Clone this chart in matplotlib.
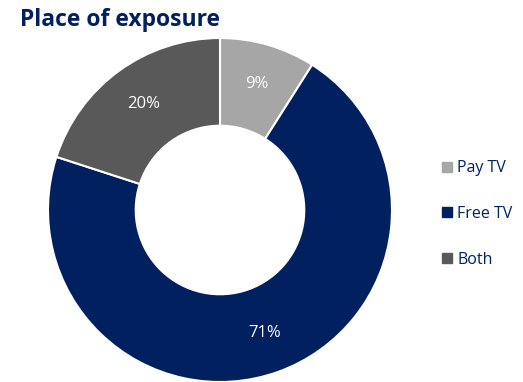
import matplotlib.pyplot as plt
from matplotlib.lines import Line2D

plt.rcParams['font.family'] = ['Open Sans', 'DejaVu Sans']

labels = ['Pay TV', 'Free TV', 'Both']
values = [9, 71, 20]
colors = ['#A6A6A6', '#002060', '#595959']
navy = '#002060'

fig = plt.figure(figsize=(5.23, 3.82), dpi=100)
ax = fig.add_axes([48 / 523, 0, 344 / 523, 344 / 382])
wedges, texts, autotexts = ax.pie(
    values, colors=colors, startangle=90, counterclock=False,
    autopct='%.0f%%', pctdistance=0.76, radius=1,
    wedgeprops=dict(width=0.51, edgecolor='white', linewidth=1.5),
    textprops=dict(color='white', fontsize=12))
ax.set_xlim(-1, 1)
ax.set_ylim(-1, 1)

fig.text(20 / 523, 1 - 20 / 382, 'Place of exposure', fontsize=16.5,
         fontweight='bold', color=navy, ha='left', va='center')

handles = [Line2D([], [], marker='s', linestyle='none', markersize=7,
                  markerfacecolor=c, markeredgecolor=c) for c in colors]
leg = fig.legend(handles, labels, loc='center left',
                 bbox_to_anchor=(427 / 523, 1 - 214 / 382), frameon=False,
                 fontsize=11.5, handlelength=0.7, handletextpad=0.3,
                 labelspacing=1.85)
for t in leg.get_texts():
    t.set_color(navy)

fig.savefig('out.png', dpi=100)
